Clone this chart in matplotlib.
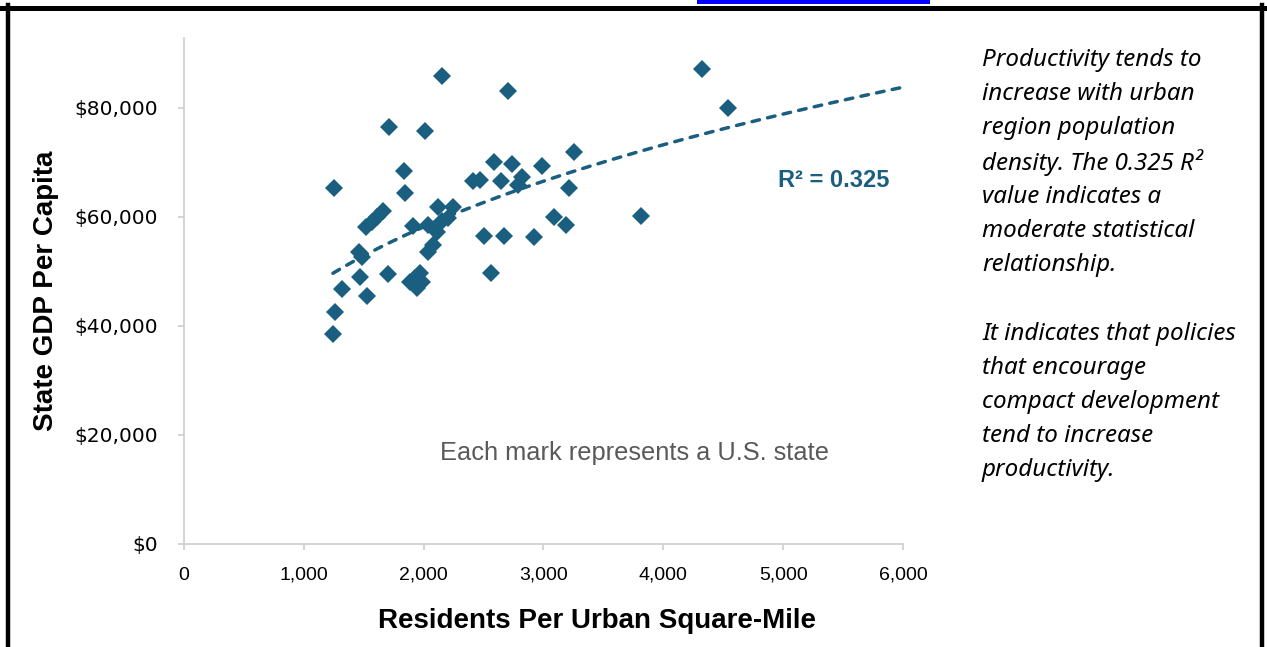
import numpy as np
import matplotlib
matplotlib.use('Agg')
import matplotlib.pyplot as plt
from matplotlib.patches import Rectangle
from matplotlib.ticker import FuncFormatter

# residents per urban square mile vs state GDP per capita (one mark per state)
density = [1252, 1260, 1243, 1319, 1460, 1485, 1469, 1527, 1519, 1569,
           1611, 1661, 1711, 1702, 1836, 1844, 1886, 1911, 1928, 1969,
           1986, 1944, 2011, 2036, 2078, 2036, 2111, 2120, 2153, 2203,
           2245, 2153, 2412, 2470, 2504, 2562, 2587, 2645, 2670, 2704,
           2737, 2787, 2821, 2921, 2988, 3088, 3188, 3213, 3255, 3814,
           4323, 4540]
gdp = [65300, 42600, 38500, 46800, 53600, 52700, 49000, 45500, 58200, 59100,
       60000, 61100, 76500, 49500, 68400, 64400, 48100, 58300, 48800, 49700,
       48100, 47000, 75800, 53600, 54900, 58500, 57200, 61800, 59300, 59800,
       61800, 85900, 66600, 66800, 56500, 49700, 70100, 66600, 56500, 83100,
       69700, 65900, 67300, 56300, 69400, 60000, 58500, 65300, 71900, 60200,
       87200, 80000]

x_ticks = [0, 1000, 2000, 3000, 4000, 5000, 6000]
y_ticks = [0, 20000, 40000, 60000, 80000]

note_lines = ['Productivity tends to', 'increase with urban', 'region population',
              'density. The 0.325 R\u00b2', 'value indicates a', 'moderate statistical',
              'relationship.', '', 'It indicates that policies', 'that encourage',
              'compact development', 'tend to increase', 'productivity.']

blue = '#1a5e80'
axis_gray = '#d0d0d0'

fig = plt.figure(figsize=(12.67, 6.47), dpi=100)
ax = fig.add_axes([0.1452, 0.1592, 0.5675, 0.7821])

ax.plot(density, gdp, linestyle='none', marker='D', ms=9.2, color=blue, mew=0, zorder=3)

# power trendline fitted in log-log space, extended forward to 6,000
b, log_a = np.polyfit(np.log(density), np.log(gdp), 1)
xs = np.linspace(min(density), 6000, 200)
ax.plot(xs, np.exp(log_a) * xs ** b, color=blue, lw=2.5, dashes=(2.2, 2.4),
        dash_capstyle='round', zorder=2)

ax.set_xlim(0, 6000)
ax.set_ylim(0, 92800)
ax.set_xticks(x_ticks)
ax.set_yticks(y_ticks)
ax.xaxis.set_major_formatter(FuncFormatter(lambda v, p: f'{v:,.0f}'))
ax.yaxis.set_major_formatter(FuncFormatter(lambda v, p: f'${v:,.0f}'))

for s in ['top', 'right']:
    ax.spines[s].set_visible(False)
for s in ['left', 'bottom']:
    ax.spines[s].set_color(axis_gray)
    ax.spines[s].set_linewidth(1.3)
ax.tick_params(axis='both', colors=axis_gray, width=1.3, length=4.5)
ax.tick_params(axis='y', pad=14, labelcolor='black')
ax.tick_params(axis='x', pad=12, labelcolor='black')
for lab in ax.get_yticklabels():
    lab.set_fontfamily('DejaVu Sans')
    lab.set_fontsize(14.5)
for lab in ax.get_xticklabels():
    lab.set_fontfamily('Liberation Sans')
    lab.set_fontsize(14)

ax.set_xlabel('Residents Per Urban Square-Mile', fontsize=20, fontweight='bold',
              family='Liberation Sans')
ax.xaxis.set_label_coords(0.575, -0.152)
ax.xaxis.label.set_va('center')
ax.set_ylabel('State GDP Per Capita', fontsize=20, fontweight='bold',
              family='Liberation Sans')
ax.yaxis.set_label_coords(-0.192, 0.5)
ax.yaxis.label.set_va('center')

ax.text(0.903, 0.719, 'R\u00b2 = 0.325', transform=ax.transAxes, ha='center', va='center',
        fontsize=17, fontweight='bold', color=blue, family='Liberation Sans')
ax.text(0.627, 0.180, 'Each mark represents a U.S. state', transform=ax.transAxes,
        ha='center', va='center', fontsize=18.3, color='#595959', family='Liberation Sans')

# side note
for i, line in enumerate(note_lines):
    fig.text(982 / 1267, 1 - (60 + 34.2 * i) / 647, line, ha='left', va='center',
             fontsize=17.4, style='italic', family='Noto Sans', color='black')

# page frame and the clipped hyperlink strip of the title above
fig.add_artist(plt.Line2D([0, 1], [1 - 7.5 / 647] * 2, transform=fig.transFigure,
                          color='black', lw=3.6))
fig.add_artist(plt.Line2D([7.5 / 1267] * 2, [0, 1 - 5 / 647], transform=fig.transFigure,
                          color='black', lw=3.2))
fig.add_artist(plt.Line2D([1 - 5.5 / 1267] * 2, [0, 1 - 5 / 647], transform=fig.transFigure,
                          color='black', lw=3.2))
fig.add_artist(Rectangle((697 / 1267, 1 - 4 / 647), 233 / 1267, 4 / 647,
                         transform=fig.transFigure, color='#0000ff', lw=0))

fig.savefig('out.png', dpi=100)
